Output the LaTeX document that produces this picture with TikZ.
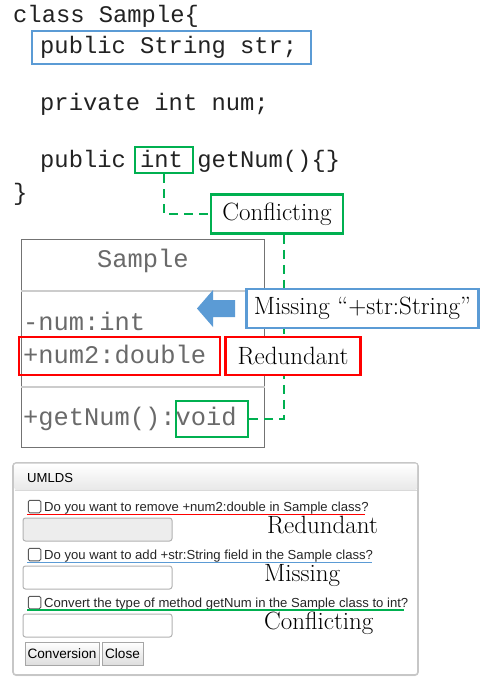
\documentclass[tikz,border=0pt]{standalone}
\usepackage{fontspec}
\newfontfamily\codefont{Liberation Mono}
\newfontfamily\uifont{Liberation Sans}
\usetikzlibrary{shadows}
\definecolor{cblue}{HTML}{5B9BD5}
\definecolor{cgreen}{HTML}{00B050}
\definecolor{cred}{HTML}{FF0000}
\definecolor{codeink}{HTML}{222222}
\definecolor{umlink}{HTML}{6A6A6A}
\tikzset{
  codeline/.style={anchor=base west,inner sep=0pt,text=codeink,font=\codefont\fontsize{23.8}{26}\selectfont},
  umltext/.style={anchor=base west,inner sep=0pt,text=umlink,font=\codefont\fontsize{25.4}{28}\selectfont},
  markbox/.style={draw=#1,line width=2.8pt,inner sep=0pt,fill=none},
  tagbox/.style={draw=#1,line width=2.8pt,fill=white,inner sep=0pt,font=\fontsize{25}{28}\selectfont},
  link/.style={draw=cgreen,line width=2.8pt,dash pattern=on 9pt off 6pt},
  uitext/.style={anchor=base west,inner sep=0pt,text=black!85,font=\uifont\fontsize{13.1}{16}\selectfont},
  tick/.style={draw=black!65,fill=white,rounded corners=1.5pt,line width=1pt,minimum size=12.5pt,inner sep=0pt},
  field/.style={draw=black!30,rounded corners=2.5pt,line width=1pt,minimum width=149pt,minimum height=23pt,inner sep=0pt},
  btn/.style={draw=black!35,line width=0.8pt,top color=white,bottom color=black!13,minimum height=23pt,inner sep=0pt,font=\uifont\fontsize{13.6}{16}\selectfont},
  tag/.style={anchor=base west,inner sep=0pt,font=\fontsize{25}{28}\selectfont},
}
\begin{document}
\begin{tikzpicture}[x=1pt,y=-1pt]
\useasboundingbox (0,0) rectangle (480,677);
\fill[white] (0,0) rectangle (480,677);

% ---- Java source ----
\node[codeline] (l1) at (13,23) {class Sample\{};
\node[codeline] (l2) at (40,54) {public String str;};
\node[codeline] (l3) at (40,110) {private int num;};
\node[codeline] (l4) at (40,167) {public int getNum()\{\}};
\node[codeline] (l5) at (13,200) {\}};
\node[markbox=cblue,minimum width=279pt,minimum height=33pt] (strbox) at (171.5,47.5) {};
\node[markbox=cgreen,minimum width=58pt,minimum height=26pt] (intbox) at (164,160) {};

% ---- conflict label ----
\node[tagbox=cgreen,minimum width=132pt,minimum height=39pt] (conflict) at (277,214) {Conflicting};

% ---- UML class ----
\node[draw=black!55,line width=1pt,minimum width=243pt,minimum height=208pt,inner sep=0pt] (cls) at (142.5,343) {};
\draw[black!20,line width=1.6pt] (cls.west |- 0,291) coordinate (s1a) -- (cls.east |- 0,291) coordinate (s1b);
\draw[black!20,line width=1.6pt] (cls.west |- 0,387) coordinate (s2a) -- (cls.east |- 0,387) coordinate (s2b);
\node[umltext] (cname) at (97,267) {Sample};
\node[umltext] (fnum) at (23,330) {-num:int};
\node[umltext] (fnum2) at (23,363) {+num2:double};
\node[umltext] (mget) at (23,425) {+getNum():void};
\node[markbox=cred,minimum width=201pt,minimum height=38pt] (num2box) at (119.5,356) {};
\node[markbox=cgreen,minimum width=72pt,minimum height=36pt] (voidbox) at (212,419) {};

% connectors from the code to the class
\draw[link] (intbox.south) |- (conflict.west);
\draw[link] ([xshift=7pt]conflict.south) |- (voidbox.east);

% ---- missing / redundant labels ----
\node[tagbox=cblue,minimum width=232pt,minimum height=39pt] (missing) at (362.5,308.5) {Missing “+str:String”};
\fill[cblue] (235,300) -- (213,300) -- (213,290) -- (197,308.5) -- (213,327) -- (213,317) -- (235,317) -- cycle;
\node[tagbox=cred,minimum width=135pt,minimum height=38pt] (redund) at (293,356) {Redundant};

% ---- UMLDS dialog ----
\node[draw=black!22,line width=1.6pt,rounded corners=3pt,fill=white,minimum width=405pt,minimum height=212pt,inner sep=0pt,drop shadow={shadow xshift=0pt,shadow yshift=-1pt,opacity=0.15}] (dlg) at (215.5,569) {};
\shade[top color=white,bottom color=black!9,rounded corners=2pt] (14.5,463.5) rectangle (417,490);
\draw[black!15,line width=0.8pt] (14.5,490) -- (417,490);
\node[uitext,text=black] (title) at (27,482) {UMLDS};

\node[tick] (c1) at (34.5,506.5) {};
\node[uitext] (q1) at (44,511) {Do you want to remove +num2:double in Sample class?};
\draw[cred,line width=1.4pt] (27,514.5) -- (365,514.5);
\node[field,fill=black!7] (t1) at (97.5,529.5) {};
\node[tag] (r1) at (267,533) {Redundant};

\node[tick] (c2) at (34.5,554.5) {};
\node[uitext] (q2) at (44,559) {Do you want to add +str:String field in the Sample class?};
\draw[cblue,line width=1.4pt] (27,562.5) -- (372,562.5);
\node[field] (t2) at (97.5,577.5) {};
\node[tag] (r2) at (264,581) {Missing};

\node[tick] (c3) at (34.5,602.5) {};
\node[uitext] (q3) at (44,607) {Convert the type of method getNum in the Sample class to int?};
\draw[cgreen,line width=1.4pt] (27,610) -- (404,610);
\node[field] (t3) at (97.5,625.5) {};
\node[tag] (r3) at (264,629) {Conflicting};

\node[btn,minimum width=74pt] (conv) at (62,653.5) {Conversion};
\node[btn,minimum width=41pt] (close) at (122.5,653.5) {Close};
\end{tikzpicture}
\end{document}
